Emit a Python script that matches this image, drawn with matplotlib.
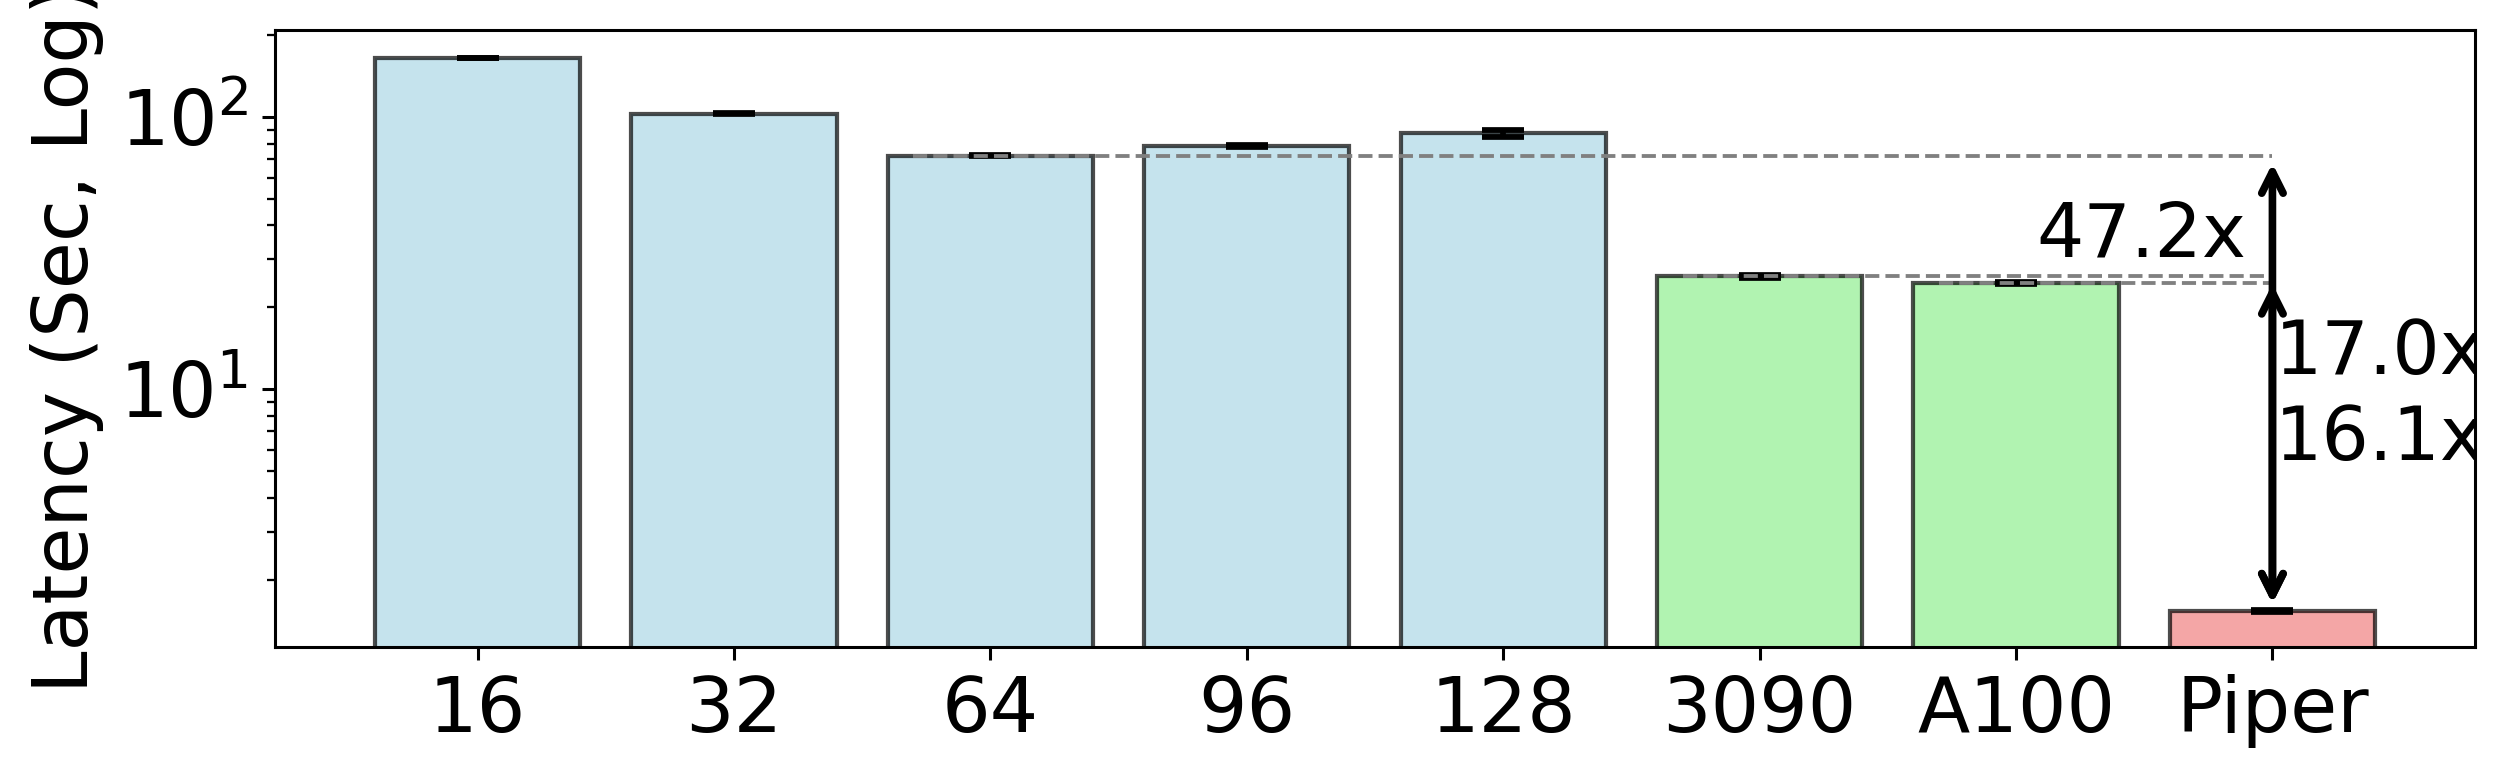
import numpy as np
import matplotlib
matplotlib.use("Agg")
import matplotlib.pyplot as plt

# latency in seconds (log scale)
labels = ['16', '32', '64', '96', '128', '3090', 'A100', 'Piper']
latency = [165, 103, 72.2, 78.3, 87.3, 26.0, 24.6, 1.53]
errors = [0.5, 0.5, 0.3, 0.5, 2.5, 0.3, 0.2, 0.01]
colors = ['lightblue'] * 5 + ['lightgreen'] * 2 + ['lightcoral']

speedups = ['47.2x', '17.0x', '16.1x']

plt.rcParams['font.size'] = 20

fig = plt.figure(figsize=(2509 / 275, 780 / 275), dpi=275)
ax = fig.add_axes([275 / 2509, 133 / 780, 2200 / 2509, 617 / 780])

x = np.arange(len(labels))
ax.bar(x, latency, width=0.8, color=colors, alpha=0.7, edgecolor='black',
       linewidth=1.1, yerr=errors, capsize=5.5,
       error_kw=dict(ecolor='black', elinewidth=1.5, capthick=1.5))

ax.set_yscale('log')
ax.set_ylim(1.13, 209)
ax.set_xticks(x)
ax.set_xticklabels(labels)
ax.set_ylabel('Latency (Sec, Log)')

piper = len(labels) - 1
# reference lines from the best CPU config and the GPUs
for i in [2, 5, 6]:
    ax.hlines(latency[i], i - 0.3, piper, colors='gray', linestyles='--', linewidth=1)

ax.annotate('', xy=(piper, latency[piper]), xytext=(piper, latency[2]),
            arrowprops=dict(arrowstyle='<->', color='black', lw=2, mutation_scale=14))
ax.annotate('', xy=(piper, latency[piper]), xytext=(piper, latency[5]),
            arrowprops=dict(arrowstyle='<->', color='black', lw=2, mutation_scale=14))

ax.text(piper - 0.1, 30.8, speedups[0], ha='right', va='baseline', fontsize=19.5, clip_on=True)
ax.text(piper + 0.01, 11.4, speedups[1], ha='left', va='baseline', fontsize=19.5, clip_on=True)
ax.text(piper + 0.01, 5.5, speedups[2], ha='left', va='baseline', fontsize=19.5, clip_on=True)

fig.savefig('out.png', dpi=275)
